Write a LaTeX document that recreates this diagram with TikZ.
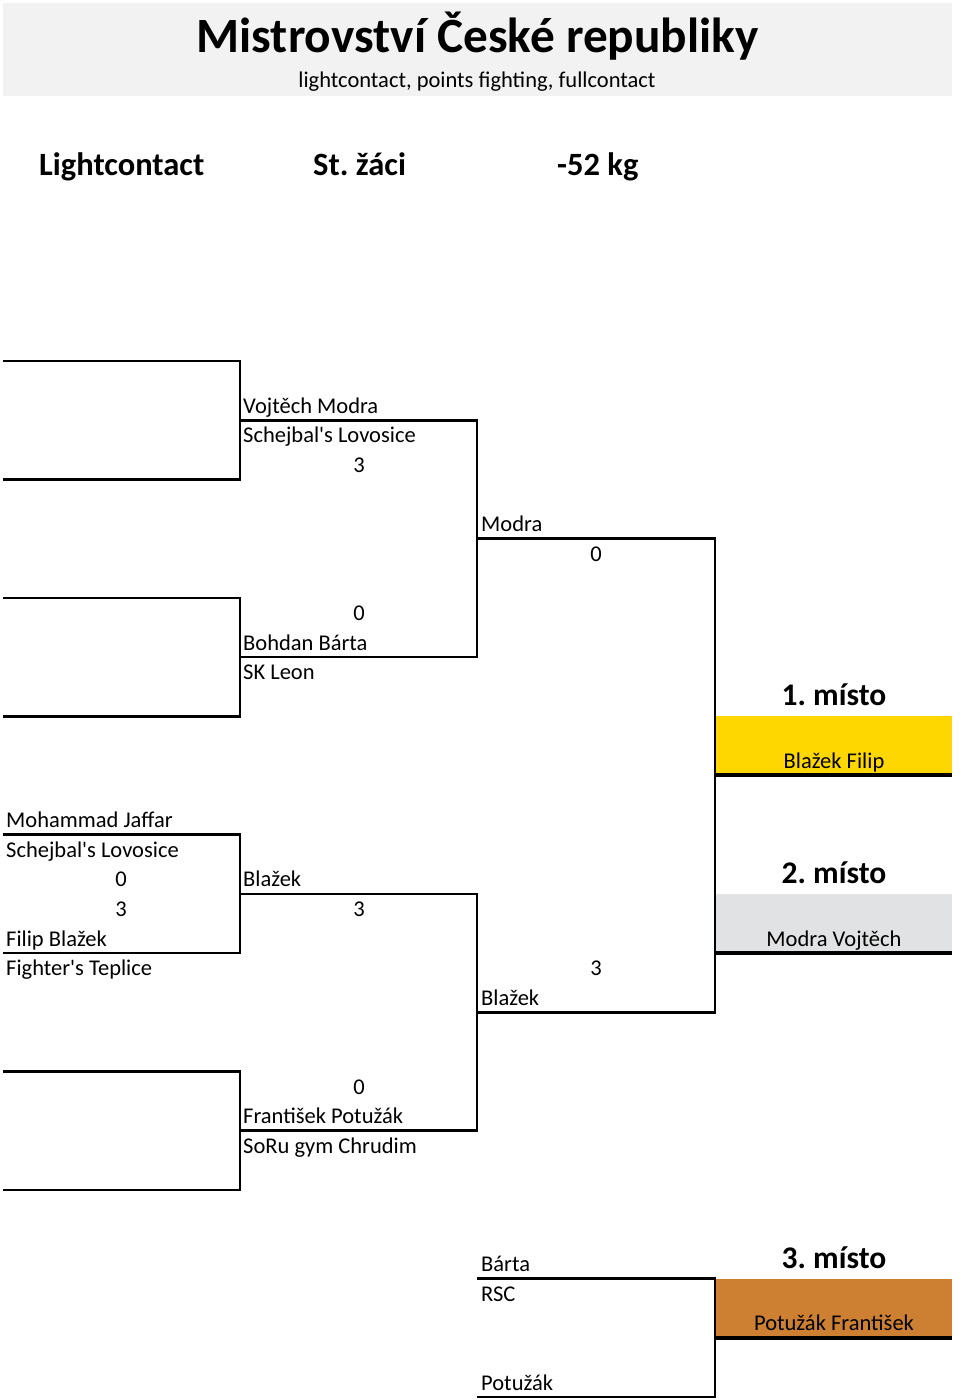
\documentclass[tikz,border=0pt]{standalone}
\usepackage{fontspec}
\setmainfont{Carlito}[Ligatures=TeXOff]
\frenchspacing
\definecolor{hdrgray}{HTML}{F2F2F2}
\definecolor{gold}{HTML}{FFD700}
\definecolor{silver}{HTML}{E1E2E4}
\definecolor{bronze}{HTML}{CD7F32}
\tikzset{
  lbl/.style={inner sep=0pt, anchor=base west, font=\fontsize{22.5}{26}\selectfont},
  score/.style={inner sep=0pt, anchor=base, font=\fontsize{22.5}{26}\selectfont},
  place/.style={inner sep=0pt, anchor=base, font=\fontsize{31.5}{36}\selectfont\bfseries},
  cat/.style={inner sep=0pt, anchor=base west, font=\fontsize{32.5}{36}\selectfont\bfseries},
  br/.style={draw=black, line width=2.6pt},
  thickln/.style={draw=black, line width=4pt},
}
\begin{document}
\frenchspacing
\begin{tikzpicture}[x=1pt,y=-1pt]
\useasboundingbox (0,0) rectangle (960,1400);
\fill[white] (0,0) rectangle (960,1400);
% header
\fill[hdrgray] (3,3) rectangle (952,96);
\node[inner sep=0pt, anchor=base, font=\fontsize{49.3}{56}\selectfont\bfseries] (title) at (477.5,52.7) {Mistrovství České republiky};
\node[inner sep=0pt, anchor=base, font=\fontsize{22.5}{26}\selectfont] (sub) at (477,87) {lightcontact, points fighting, fullcontact};
\node[cat] (c1) at (39,175) {Lightcontact};
\node[cat] (c2) at (313,175) {St. žáci};
\node[cat] (c3) at (557,175) {-52 kg};

% final boxes
\fill[gold] (716,716.2) rectangle (952,775.4);
\fill[silver] (716,893.8) rectangle (952,953);
\fill[bronze] (716,1278.6) rectangle (952,1337.8);
\coordinate (g1L) at (715,775.4); \coordinate (g1R) at (952,775.4);
\coordinate (g2L) at (715,953); \coordinate (g2R) at (952,953);
\coordinate (g3L) at (715,1337.8); \coordinate (g3R) at (952,1337.8);
\draw[thickln] (g1L) -- (g1R);
\draw[thickln] (g2L) -- (g2R);
\draw[thickln] (g3L) -- (g3R);

% round 1 brackets
\coordinate (a1) at (3,361); \coordinate (a2) at (240,361); \coordinate (a3) at (240,479.4); \coordinate (a4) at (3,479.4);
\draw[br] (a1) -- (a2) -- (a3) -- (a4);
\coordinate (b1) at (3,597.8); \coordinate (b2) at (240,597.8); \coordinate (b3) at (240,716.2); \coordinate (b4) at (3,716.2);
\draw[br] (b1) -- (b2) -- (b3) -- (b4);
\coordinate (c1a) at (3,834.6); \coordinate (c2a) at (240,834.6); \coordinate (c3a) at (240,953); \coordinate (c4a) at (3,953);
\draw[br] (c1a) -- (c2a) -- (c3a) -- (c4a);
\coordinate (d1) at (3,1071.4); \coordinate (d2) at (240,1071.4); \coordinate (d3) at (240,1189.8); \coordinate (d4) at (3,1189.8);
\draw[br] (d1) -- (d2) -- (d3) -- (d4);
% round 2
\coordinate (e1) at (240,420.2); \coordinate (e2) at (477,420.2); \coordinate (e3) at (477,657); \coordinate (e4) at (240,657);
\draw[br] (e1) -- (e2) -- (e3) -- (e4);
\coordinate (f1) at (240,893.8); \coordinate (f2) at (477,893.8); \coordinate (f3) at (477,1130.6); \coordinate (f4) at (240,1130.6);
\draw[br] (f1) -- (f2) -- (f3) -- (f4);
% round 3
\coordinate (h1) at (477,538.6); \coordinate (h2) at (715,538.6); \coordinate (h3) at (715,1012.2); \coordinate (h4) at (477,1012.2);
\draw[br] (h1) -- (h2) -- (h3) -- (h4);
% third place
\coordinate (t1) at (477,1278.6); \coordinate (t2) at (715,1278.6); \coordinate (t3) at (715,1397); \coordinate (t4) at (477,1397);
\draw[br] (t1) -- (t2) -- (t3) -- (t4);

% labels round 2 top
\node[lbl] (n1) at (243,413.2) {Vojtěch Modra};
\node[lbl] (n2) at (243,442.8) {Schejbal's Lovosice};
\node[score] (s1) at (359,472.4) {3};
\node[score] (s2) at (359,620.4) {0};
\node[lbl] (n3) at (243,650) {Bohdan Bárta};
\node[lbl] (n4) at (243,679.6) {SK Leon};
\node[lbl] (n5) at (481,531.6) {Modra};
\node[score] (s3) at (596,561.2) {0};

% lower half
\node[lbl] (m1) at (6,827.6) {Mohammad Jaffar};
\node[lbl] (m2) at (6,857.2) {Schejbal's Lovosice};
\node[score] (s4) at (121,886.8) {0};
\node[score] (s5) at (121,916.4) {3};
\node[lbl] (m3) at (6,946) {Filip Blažek};
\node[lbl] (m4) at (6,975.6) {Fighter's Teplice};
\node[lbl] (m5) at (243,886.8) {Blažek};
\node[score] (s6) at (359,916.4) {3};
\node[score] (s7) at (596,975.6) {3};
\node[lbl] (m6) at (481,1005.2) {Blažek};
\node[score] (s8) at (359,1094) {0};
\node[lbl] (m7) at (243,1123.6) {František Potužák};
\node[lbl] (m8) at (243,1153.2) {SoRu gym Chrudim};

% third place labels
\node[lbl] (p1) at (481,1271.6) {Bárta};
\node[lbl] (p2) at (481,1301.2) {RSC};
\node[lbl] (p3) at (481,1390) {Potužák};

% placings
\node[place] (pl1) at (834,705) {1. místo};
\node[score] (w1) at (834,768.4) {Blažek Filip};
\node[place] (pl2) at (834,883) {2. místo};
\node[score] (w2) at (834,946) {Modra Vojtěch};
\node[place] (pl3) at (834,1268) {3. místo};
\node[score] (w3) at (834,1330.8) {Potužák František};
\end{tikzpicture}
\end{document}
